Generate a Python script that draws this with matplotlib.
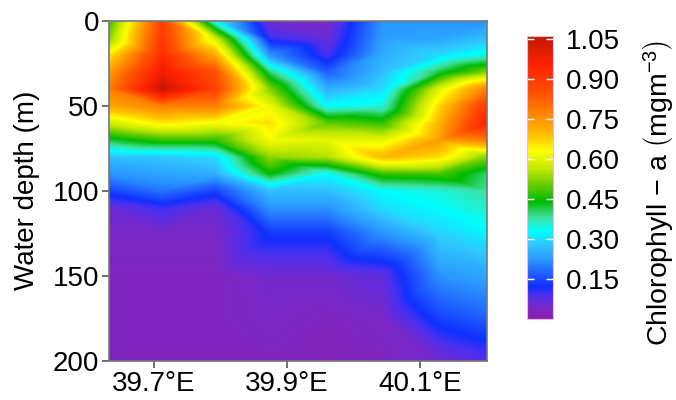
import numpy as np
import matplotlib
matplotlib.use("Agg")
import matplotlib.pyplot as plt
import matplotlib.tri as mtri
from matplotlib.colors import LinearSegmentedColormap, Normalize

plt.rcParams['font.family'] = ['Liberation Sans', 'DejaVu Sans']
plt.rcParams['mathtext.fontset'] = 'custom'
plt.rcParams['mathtext.rm'] = 'Liberation Sans'
plt.rcParams['mathtext.it'] = 'Liberation Sans:italic'

# station longitudes (deg E) and sample depths (m)
lons = [39.632, 39.712, 39.792, 39.874, 39.960, 40.043, 40.130, 40.200]
depths = [0, 10, 20, 30, 40, 50, 60, 70, 80, 90, 100, 110, 125, 150, 175, 200]

# chlorophyll-a profiles (mg m-3) per station, same order as depths
st1 = [0.47, 0.52, 0.65, 0.74, 0.78, 0.72, 0.58, 0.42, 0.27, 0.22, 0.14, 0.06, 0.04, 0.03, 0.03, 0.03]
st2 = [0.88, 0.90, 0.93, 0.98, 1.05, 0.78, 0.65, 0.47, 0.28, 0.24, 0.19, 0.10, 0.04, 0.03, 0.03, 0.03]
st3 = [0.33, 0.58, 0.72, 0.85, 0.88, 0.78, 0.62, 0.47, 0.30, 0.25, 0.14, 0.06, 0.04, 0.03, 0.03, 0.03]
st4 = [0.05, 0.10, 0.22, 0.40, 0.52, 0.61, 0.66, 0.62, 0.53, 0.44, 0.27, 0.22, 0.13, 0.05, 0.04, 0.03]
st5 = [0.04, 0.06, 0.09, 0.17, 0.25, 0.33, 0.50, 0.60, 0.55, 0.33, 0.27, 0.22, 0.13, 0.05, 0.03, 0.02]
st6 = [0.22, 0.23, 0.25, 0.27, 0.30, 0.35, 0.47, 0.60, 0.70, 0.47, 0.33, 0.30, 0.22, 0.07, 0.04, 0.03]
st7 = [0.22, 0.24, 0.30, 0.42, 0.60, 0.67, 0.71, 0.74, 0.66, 0.48, 0.35, 0.33, 0.29, 0.22, 0.14, 0.05]
st8 = [0.22, 0.27, 0.35, 0.52, 0.78, 0.90, 0.95, 0.78, 0.52, 0.40, 0.38, 0.36, 0.32, 0.24, 0.17, 0.08]

x_ticks = [39.7, 39.9, 40.1]
x_ticklabels = ["39.7°E", "39.9°E", "40.1°E"]
y_ticks = [0, 50, 100, 150, 200]
cb_ticks = [0.15, 0.30, 0.45, 0.60, 0.75, 0.90, 1.05]
vmin, vmax = 0.0, 1.06

cmap_nodes = [
    (0.00, "#8B1FA9"), (0.04, "#7A28C8"), (0.09, "#4A30F0"), (0.12, "#1030FF"),
    (0.17, "#2060FF"), (0.22, "#2A95FF"), (0.28, "#30C8FF"), (0.33, "#00FFFF"),
    (0.38, "#40E0A0"), (0.44, "#00BB00"), (0.50, "#60CC00"), (0.56, "#C0E800"),
    (0.63, "#FFFF00"), (0.68, "#FFC800"), (0.74, "#FF9A00"), (0.84, "#FF5500"),
    (0.95, "#FF2200"), (1.06, "#C01800"),
]
cmap = LinearSegmentedColormap.from_list(
    "chl", [(v / vmax, c) for v, c in cmap_nodes], N=512)
norm = Normalize(vmin, vmax)

Z = np.array([st1, st2, st3, st4, st5, st6, st7, st8]).T
X, Y = np.meshgrid(lons, depths)

# linear interpolation on the station triangulation (rendering only)
triang = mtri.Triangulation(X.ravel(), Y.ravel())
interp = mtri.LinearTriInterpolator(triang, Z.ravel())
xi = np.linspace(lons[0], lons[-1], 500)
yi = np.linspace(depths[0], depths[-1], 500)
XI, YI = np.meshgrid(xi, yi)
ZI = interp(XI, YI)

FS = 20
fig = plt.figure(figsize=(6.76, 4.0), dpi=100)
ax = fig.add_axes([0.161, 0.0975, 0.559, 0.85])
ax.imshow(ZI, extent=[lons[0], lons[-1], depths[-1], depths[0]], origin='upper',
          aspect='auto', cmap=cmap, norm=norm, interpolation='bilinear')
ax.set_xlim(lons[0], lons[-1])
ax.set_ylim(200, 0)
ax.set_xticks(x_ticks)
ax.set_xticklabels(x_ticklabels)
ax.set_yticks(y_ticks)
ax.tick_params(labelsize=FS, direction='out', length=5, width=1.2,
               color='#555555', pad=2)
for s in ax.spines.values():
    s.set_color('#777777')
    s.set_linewidth(1.2)
fig.text(27 / 676, 1 - 190 / 400, "Water depth (m)", rotation=90,
         ha='center', va='center', fontsize=FS)

cax = fig.add_axes([0.7796, 0.2025, 0.0385, 0.7075])
sm = matplotlib.cm.ScalarMappable(cmap=cmap, norm=norm)
cb = fig.colorbar(sm, cax=cax, ticks=cb_ticks)
cb.ax.set_yticklabels([f"{t:.2f}" for t in cb_ticks])
cb.outline.set_edgecolor('#e8b8e8')
cb.outline.set_linewidth(0.8)
cb.ax.tick_params(labelsize=FS, direction='in', length=5, width=1,
                  color='white', left=True, right=True, pad=9)
fig.text(659 / 676, 1 - 193 / 400,
         r"Chlorophyll $-$ a $\left(\mathrm{mgm^{-3}}\right)$",
         rotation=90, ha='center', va='center', fontsize=20.5)

fig.savefig("out.png", dpi=100)
